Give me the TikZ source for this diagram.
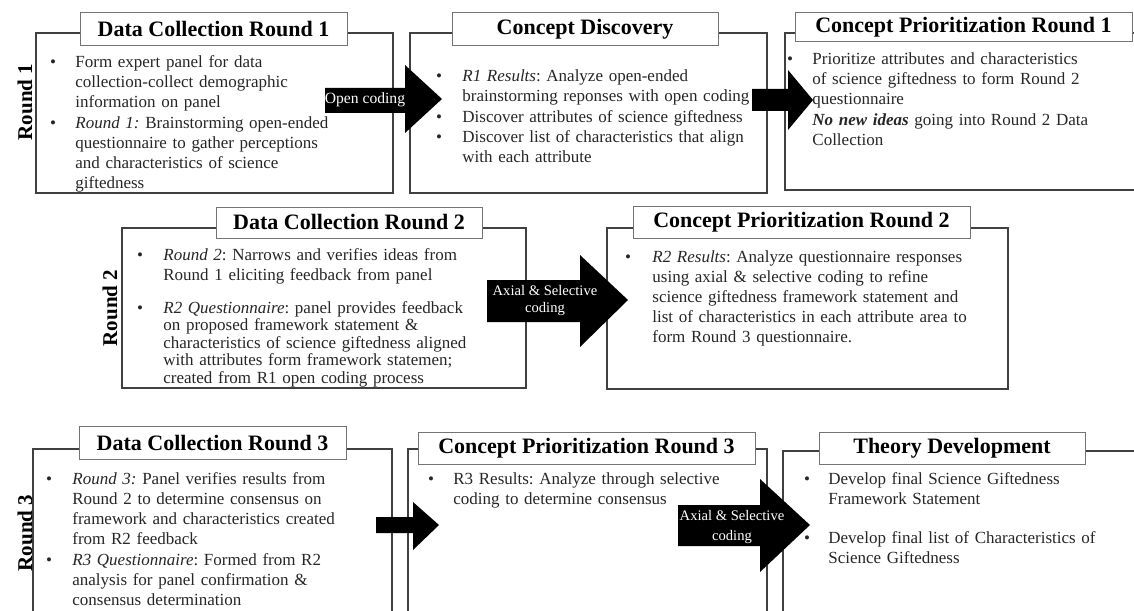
\documentclass[tikz,border=0pt]{standalone}
\usepackage{fontspec}
\setmainfont{Liberation Serif}
\frenchspacing

\begin{document}
\begin{tikzpicture}[x=0.5pt, y=-0.5pt,
    frame/.style={draw=black!75, line width=0.8pt},
    ttl/.style={draw=black!55, fill=white, line width=0.5pt, inner sep=0pt,
        minimum height=16pt, font=\fontsize{11}{13}\selectfont\bfseries},
    txt/.style={anchor=base west, align=left, inner sep=0pt, text width=190pt,
        text=black!85, font=\fontsize{8.5}{10}\selectfont},
    dot/.style={anchor=base, inner sep=0pt, text=black!85, font=\fontsize{8.5}{10}\selectfont},
    rnd/.style={rotate=90, inner sep=0pt, font=\fontsize{10.5}{12}\selectfont\bfseries},
    lbl/.style={text=white, align=center, inner sep=0pt, font=\fontsize{7.3}{9}\selectfont}]

    % Page frame (pixel grid, y downwards)
    \useasboundingbox (0,0) rectangle (1134,610);
    \clip (0,0) rectangle (1134,610);

    % ---------------- Round 1 ----------------
    \draw[frame] (36,33) rectangle (393,193);    % data collection
    \draw[frame] (410,33) rectangle (767,193);   % concept discovery
    \draw[frame] (785,33) rectangle (1150,190);  % prioritization

    \node[ttl, minimum width=133.5pt, minimum height=16.5pt] (t11) at (213.5,29.5) {Data Collection Round 1};
    \node[ttl, minimum width=133pt, minimum height=16.5pt] (t12) at (585,29.5) {Concept Discovery};
    \node[ttl, minimum width=168.5pt, minimum height=14.5pt] (t13) at (963.5,27.5) {Concept Prioritization Round 1};

    \node[rnd] (r1) at (25,102) {Round 1};

    \node[dot] (a1d) at (53,68) {•};
    \node[txt] (a1) at (75,68) {Form expert panel for data\\collection-collect demographic\\information on panel};
    \node[dot] (a2d) at (53,128) {•};
    \node[txt] (a2) at (75,128) {\textit{Round 1:} Brainstorming open-ended\\questionnaire to gather perceptions\\and characteristics of science\\giftedness};

    \node[dot] (b1d) at (439,82) {•};
    \node[txt] (b1) at (462,82) {\textit{R1 Results}: Analyze open-ended\\brainstorming reponses with open coding};
    \node[dot] (b2d) at (439,122) {•};
    \node[txt] (b2) at (462,122) {Discover attributes of science giftedness};
    \node[dot] (b3d) at (439,142) {•};
    \node[txt] (b3) at (462,142) {Discover list of characteristics that align\\with each attribute};

    \node[dot] (c1d) at (790,65) {•};
    \node[txt] (c1) at (812,65) {Prioritize attributes and characteristics\\of science giftedness to form Round 2\\questionnaire};
    \node[dot] (c2d) at (790,126) {•};
    \node[txt] (c2) at (812,126) {\textbf{\textit{No new ideas}} going into Round 2 Data\\Collection};

    % block arrows
    \fill (325,88) -- (405,88) -- (405,65) -- (442,99) -- (405,133) -- (405,113) -- (325,113) -- cycle;
    \node[lbl, font=\fontsize{7.8}{9}\selectfont] (oc) at (365,100) {Open coding};
    \fill (752,89) -- (788,89) -- (788,70) -- (813,100) -- (788,130) -- (788,111) -- (752,111) -- cycle;

    % ---------------- Round 2 ----------------
    \draw[frame] (122,228) rectangle (526,388);
    \draw[frame] (607,228) rectangle (1008,389);

    \node[ttl, minimum width=133pt, minimum height=15.5pt] (t21) at (349,222.5) {Data Collection Round 2};
    \node[ttl, minimum width=168.5pt] (t22) at (801.5,222) {Concept Prioritization Round 2};

    \node[rnd] (r2) at (110,308) {Round 2};

    \node[dot] (d1d) at (140,260) {•};
    \node[txt] (d1) at (163,260) {\textit{Round 2}: Narrows and verifies ideas from\\Round 1 eliciting feedback from panel};
    \node[dot] (d2d) at (140,313) {•};
    \node[txt, font=\fontsize{8.5}{8.75}\selectfont] (d2) at (163,313) {\textit{R2 Questionnaire}: panel provides feedback\\on proposed framework statement \&\\characteristics of science giftedness aligned\\with attributes form framework statemen;\\created from R1 open coding process};

    \node[dot] (e1d) at (628,262) {•};
    \node[txt] (e1) at (652,262) {\textit{R2 Results}: Analyze questionnaire responses\\using axial \& selective coding to refine\\science giftedness framework statement and\\list of characteristics in each attribute area to\\form Round 3 questionnaire.};

    \fill (487,280) -- (580,280) -- (580,255) -- (628,300) -- (580,347) -- (580,322) -- (487,322) -- cycle;
    \node[lbl, font=\fontsize{7.3}{8.5}\selectfont] (ax2) at (545,301) {Axial \& Selective\\coding};

    % ---------------- Round 3 ----------------
    \draw[frame] (33,449) rectangle (392,630);
    \draw[frame] (408,449) rectangle (767,630);
    \draw[frame] (783,451) rectangle (1150,630);

    \node[ttl, minimum width=133.5pt, minimum height=16.5pt] (t31) at (212.5,442.5) {Data Collection Round 3};
    \node[ttl, minimum width=168.5pt] (t32) at (586.5,448) {Concept Prioritization Round 3};
    \node[ttl, minimum width=133pt] (t33) at (952,448) {Theory Development};

    \node[rnd] (r3) at (25,533) {Round 3};

    \node[dot] (f1d) at (49,484) {•};
    \node[txt] (f1) at (72,484) {\textit{Round 3:} Panel verifies results from\\Round 2 to determine consensus on\\framework and characteristics created\\from R2 feedback};
    \node[dot] (f2d) at (49,565) {•};
    \node[txt] (f2) at (72,565) {\textit{R3 Questionnaire}: Formed from R2\\analysis for panel confirmation \&\\consensus determination};

    \node[dot] (g1d) at (431,484) {•};
    \node[txt] (g1) at (453,484) {R3 Results: Analyze through selective\\coding to determine consensus};

    \node[dot] (h1d) at (807,484) {•};
    \node[txt] (h1) at (828,484) {Develop final Science Giftedness\\Framework Statement};
    \node[dot] (h2d) at (807,543) {•};
    \node[txt] (h2) at (828,543) {Develop final list of Characteristics of\\Science Giftedness};

    \fill (376,517) -- (413,517) -- (413,502) -- (439,525) -- (413,550) -- (413,533) -- (376,533) -- cycle;
    \fill (678,505) -- (760,505) -- (760,479) -- (810,525) -- (760,572) -- (760,546) -- (678,546) -- cycle;
    \node[lbl, font=\fontsize{7.3}{10}\selectfont] (ax3) at (732,527) {Axial \& Selective\\coding};

\end{tikzpicture}
\end{document}
